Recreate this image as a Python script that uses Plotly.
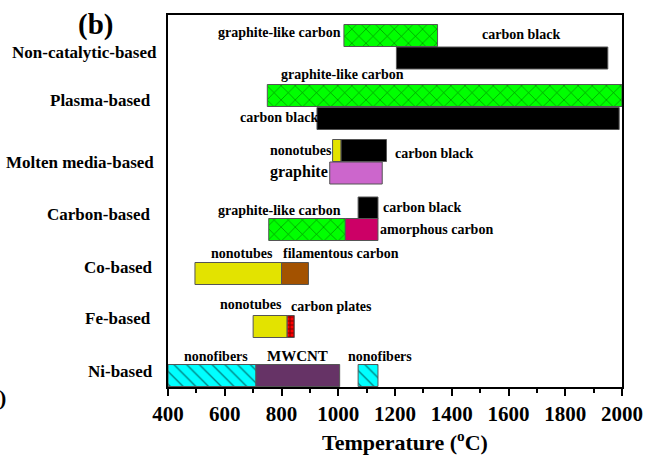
import plotly.graph_objects as go

# ---------------- data ----------------
categories = ["Non-catalytic-based", "Plasma-based", "Molten media-based",
              "Carbon-based", "Co-based", "Fe-based", "Ni-based"]

# bar segments: product, start T, end T, lane, style
seg_product = ["graphite-like carbon", "carbon black",
               "graphite-like carbon", "carbon black",
               "nonotubes", "carbon black", "graphite",
               "carbon black", "graphite-like carbon", "amorphous carbon",
               "nonotubes", "filamentous carbon",
               "nonotubes", "carbon plates",
               "nonofibers", "MWCNT", "nonofibers"]
seg_start = [1020, 1205, 750, 925, 980, 1010, 970, 1070, 755, 1025,
             495, 800, 700, 820, 400, 710, 1070]
seg_end = [1350, 1950, 2000, 1990, 1010, 1170, 1155, 1140, 1025, 1140,
           800, 895, 820, 845, 710, 1005, 1140]
seg_lane = ["nc1", "nc2", "pl1", "pl2", "mo1", "mo1", "mo2",
            "cb1", "cb2", "cb2", "co", "co", "fe", "fe", "ni", "ni", "ni"]
seg_style = ["green", "black", "green", "black", "yellow", "black", "violet",
             "black", "green", "magenta", "yellow", "brown", "yellow", "red",
             "cyan", "purple", "cyan"]
x_title = "Temperature (<sup>o</sup>C)"

# ---------------- layout helpers ----------------
W, H = 655, 459
L, R, T, B = 168, 25, 15, 72
PW, PH = W - L - R, H - T - B
FONT = "Liberation Serif, Times New Roman, serif"

# lane centres in page pixels (from top)
lane_y = {"nc1": 35.5, "nc2": 58, "pl1": 95.5, "pl2": 118.5,
          "mo1": 150.5, "mo2": 173, "cb1": 208, "cb2": 229.5,
          "co": 273.5, "fe": 326.5, "ni": 375.5}
BAR_H = 22

styles = {
    "green": dict(color="#00ff00", pattern=dict(shape="x", fgcolor="black", size=10, solidity=0.12, fillmode="overlay")),
    "black": dict(color="#000000"),
    "yellow": dict(color="#e3e300"),
    "violet": dict(color="#cc66cc"),
    "magenta": dict(color="#cc0066"),
    "brown": dict(color="#a35200"),
    "red": dict(color="#ff0000", pattern=dict(shape="+", fgcolor="black", size=4, solidity=0.45, fillmode="overlay")),
    "cyan": dict(color="#00ffff", pattern=dict(shape="\\", fgcolor="black", size=9, solidity=0.15, fillmode="overlay")),
    "purple": dict(color="#663366"),
}


def py(page_y):
    return H - B - page_y  # y-axis value from page pixel


fig = go.Figure()
for prod, s, e, lane, st in zip(seg_product, seg_start, seg_end, seg_lane, seg_style):
    m = dict(styles[st])
    m["line"] = dict(color="#555555", width=1)
    fig.add_trace(go.Bar(
        orientation="h", y=[py(lane_y[lane])], x=[e - s], base=[s],
        width=BAR_H, marker=m, name=prod, showlegend=False,
        hovertemplate=prod + ": %{base}-%{x}<extra></extra>"))


def px_x(page_x):
    return (page_x - L) / PW


def px_y(page_y):
    return (H - B - page_y) / PH


ann = []
# category labels: right edge, centre y
cat_pos = [(159, 52), (153, 100), (156, 162), (153, 214), (155, 267), (153, 318), (155, 371)]
for name, (rx, cy) in zip(categories, cat_pos):
    ann.append(dict(text=name, x=px_x(rx), y=px_y(cy), xref="paper", yref="paper",
                    xanchor="right", yanchor="middle", showarrow=False,
                    font=dict(family=FONT, size=17, color="black", weight="bold")))

# bar labels: text, left px, centre y px, size
bar_labels = [
    ("graphite-like carbon", 217, 33, 14), ("carbon black", 485, 35, 14),
    ("graphite-like carbon", 281, 75, 14), ("carbon black", 239, 118, 14),
    ("nonotubes", 270, 150, 14), ("carbon black", 397, 153, 14),
    ("graphite", 270, 172, 16),
    ("graphite-like carbon", 217, 210, 14), ("carbon black", 385, 207, 14),
    ("amorphous carbon", 382, 230, 14),
    ("nonotubes", 210, 253, 14), ("filamentous carbon", 283, 253, 14),
    ("nonotubes", 219, 304, 14), ("carbon plates", 291, 306, 14),
    ("nonofibers", 182, 356, 14), ("MWCNT", 267, 356, 15), ("nonofibers", 349, 356, 14),
]
for txt, lx, cy, sz in bar_labels:
    ann.append(dict(text=txt, x=px_x(lx), y=px_y(cy), xref="paper", yref="paper",
                    xanchor="left", yanchor="middle", showarrow=False,
                    font=dict(family=FONT, size=sz, color="black", weight="bold")))

ann.append(dict(text="(b)", x=px_x(94), y=px_y(25), xref="paper", yref="paper",
                xanchor="center", yanchor="middle", showarrow=False,
                font=dict(family=FONT, size=29, color="black", weight="bold")))
ann.append(dict(text=")", x=px_x(5), y=px_y(397), xref="paper", yref="paper",
                xanchor="right", yanchor="middle", showarrow=False,
                font=dict(family=FONT, size=22, color="black", weight="bold")))
ann.append(dict(text=x_title, x=px_x(409), y=px_y(441), xref="paper", yref="paper",
                xanchor="center", yanchor="middle", showarrow=False,
                font=dict(family=FONT, size=22, color="black", weight="bold")))

fig.update_layout(
    width=W, height=H, margin=dict(l=L, r=R, t=T, b=B),
    paper_bgcolor="white", plot_bgcolor="white",
    barmode="overlay", annotations=ann,
    font=dict(family=FONT, color="black"),
    xaxis=dict(range=[400, 2000], dtick=200, tick0=400, showgrid=False, zeroline=False,
               showline=True, linewidth=2, linecolor="black", mirror=True,
               ticks="outside", ticklen=7, tickwidth=2, tickcolor="black",
               minor=dict(ticks="outside", ticklen=4, tickwidth=1.5, dtick=100, tickcolor="black", showgrid=False),
               tickfont=dict(family=FONT, size=21, color="black", weight="bold")),
    yaxis=dict(range=[0, PH], showgrid=False, zeroline=False, showticklabels=False,
               showline=True, linewidth=2, linecolor="black", mirror=True, ticks=""),
)

fig.write_html("out.html")
